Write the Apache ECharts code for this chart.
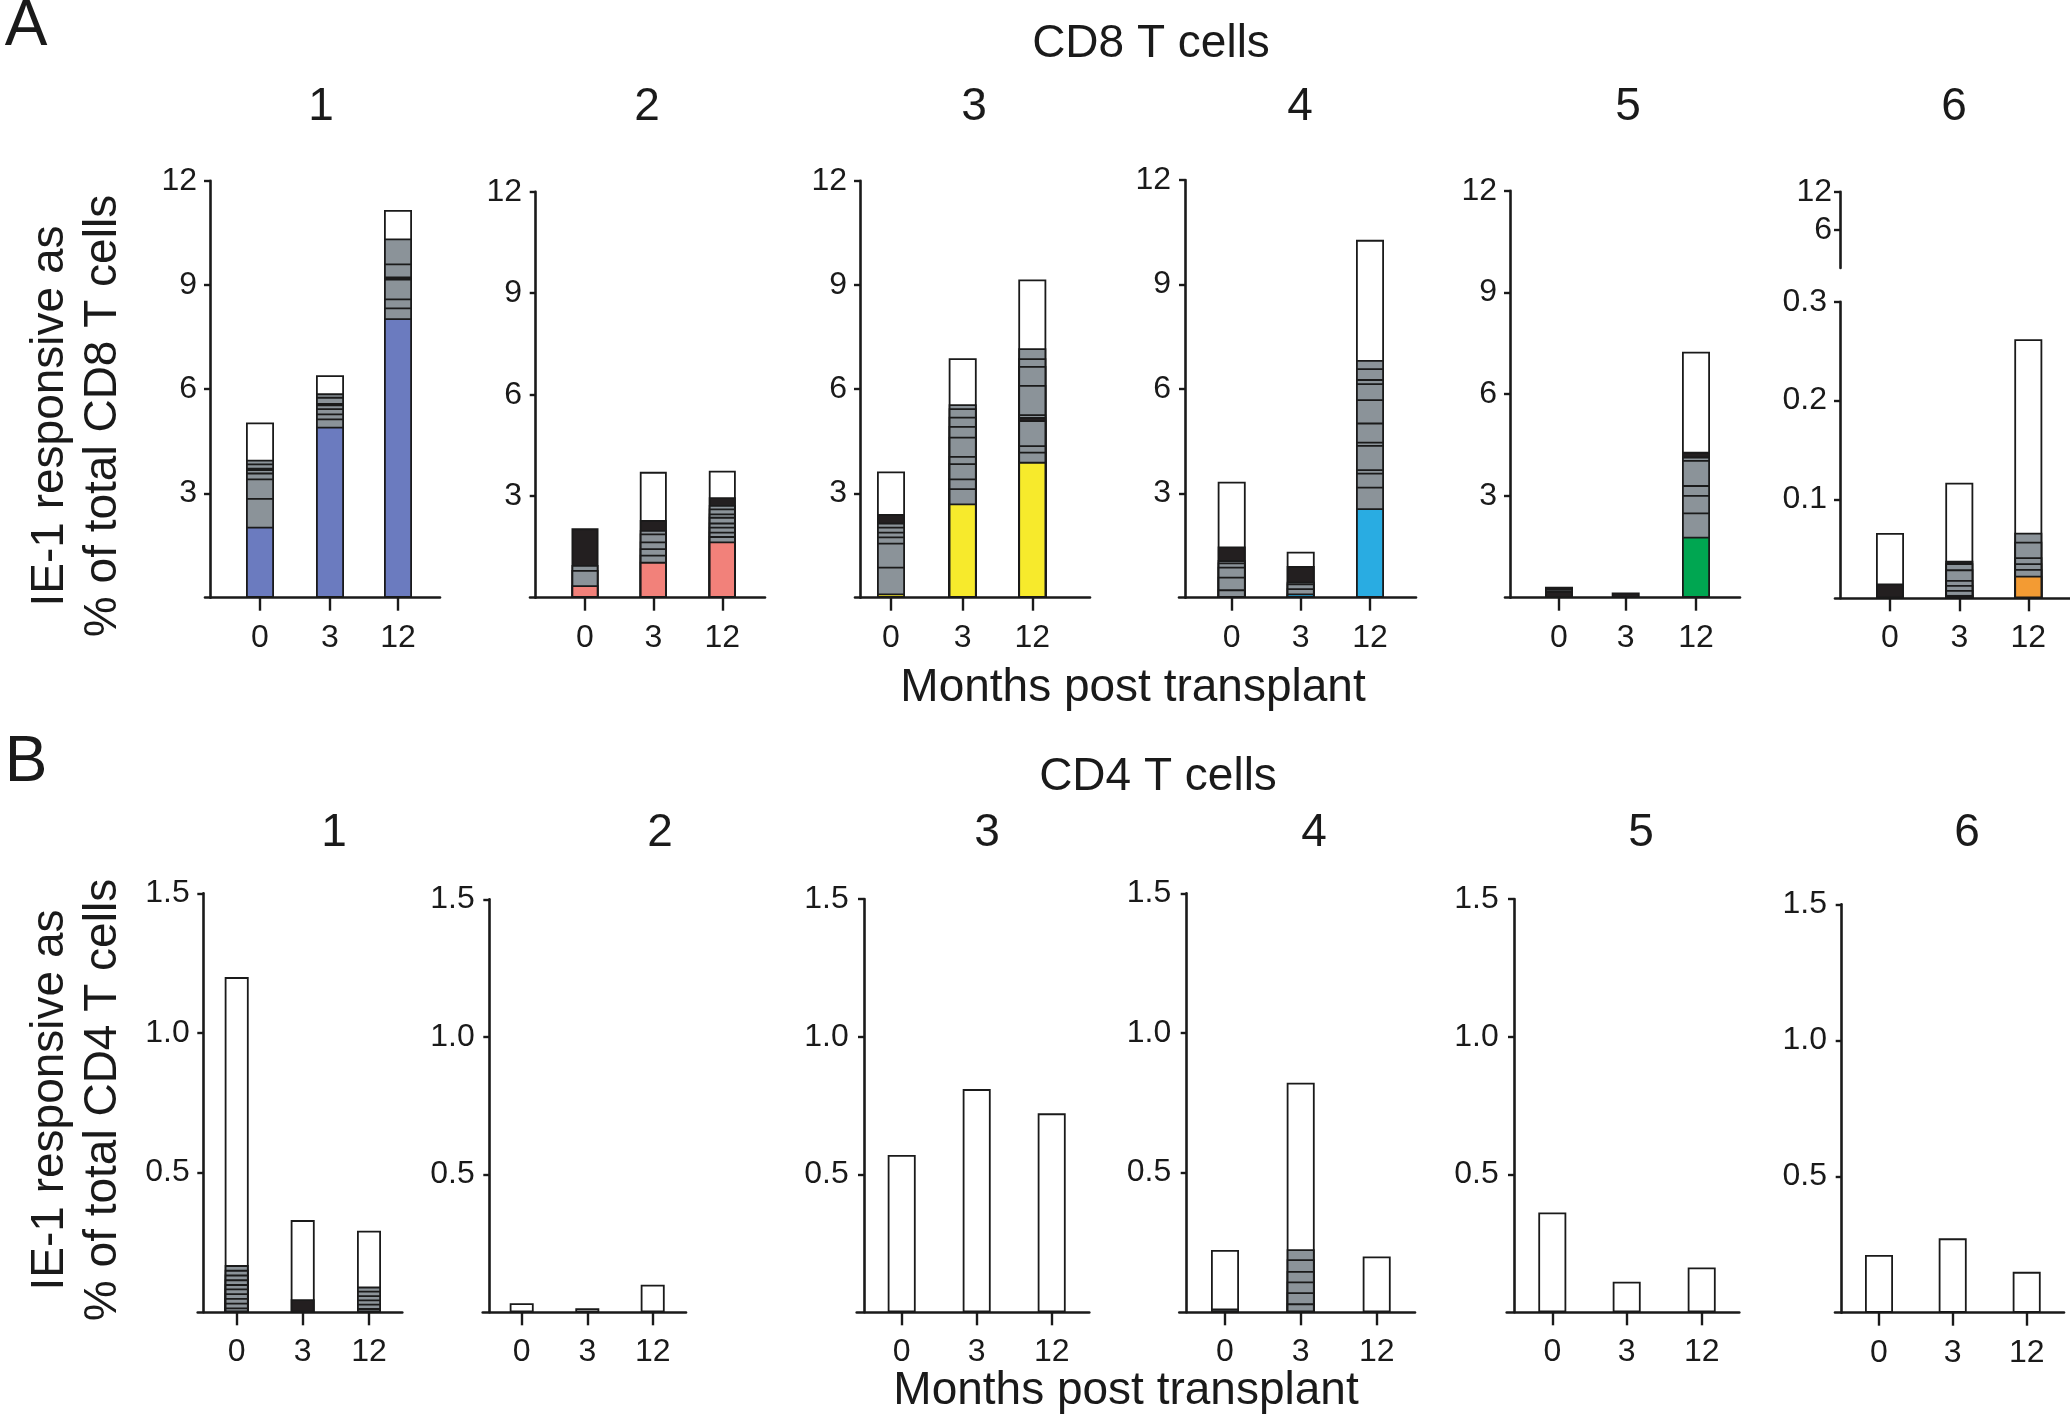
<!DOCTYPE html>
<html><head><meta charset="utf-8">
<script src="https://cdn.jsdelivr.net/npm/echarts@6/dist/echarts.min.js"></script>
<style>html,body{margin:0;padding:0;background:#fff}#c{width:2070px;height:1416px}</style>
</head><body><div id="c"></div>
<script>
// ---------------- DATA ----------------
const months = ['0', '3', '12'];
const patients = ['1', '2', '3', '4', '5', '6'];
// Segment kinds: c = patient-specific clonotype, g = grey clonotype, k = black (many tiny clonotypes), w = white remainder
// tops = cumulative top of each segment (bottom -> top), one entry per bar (month 0, 3, 12)
const cd8_1 = [
  { tops: [2.04, 2.87, 3.43, 3.60, 3.70, 3.74, 3.86, 3.97, 5.04], kinds: 'cggggkggw' },
  { tops: [4.92, 5.16, 5.30, 5.45, 5.56, 5.60, 5.78, 5.88, 6.40], kinds: 'cggggkggw' },
  { tops: [8.04, 8.35, 8.61, 9.18, 9.24, 9.62, 10.34, 11.16], kinds: 'cgggkggw' }
];
const cd8_2 = [
  { tops: [0.37, 0.82, 0.97, 2.05], kinds: 'cggk' },
  { tops: [1.06, 1.27, 1.46, 1.66, 1.90, 2.00, 2.30, 3.72], kinds: 'cgggggkw' },
  { tops: [1.66, 1.82, 1.95, 2.10, 2.22, 2.39, 2.49, 2.64, 2.74, 2.97, 3.75], kinds: 'cggggggggkw' }
];
const cd8_3 = [
  { tops: [0.12, 0.89, 1.58, 1.76, 1.90, 2.04, 2.16, 2.41, 3.63], kinds: 'cggggggkw' },
  { tops: [2.71, 3.15, 3.43, 3.87, 4.08, 4.63, 4.94, 5.21, 5.45, 5.57, 6.89], kinds: 'cgggggggggw' },
  { tops: [3.91, 4.20, 4.39, 5.11, 5.20, 5.28, 6.12, 6.67, 6.89, 7.18, 9.16], kinds: 'cgggkgggggw' }
];
const cd8_4 = [
  { tops: [0.24, 0.60, 0.89, 1.01, 1.08, 1.47, 3.33], kinds: 'gggggkw' },
  { tops: [0.12, 0.27, 0.41, 0.46, 0.91, 1.32], kinds: 'cgggkw' },
  { tops: [2.57, 3.19, 3.59, 3.69, 4.39, 4.48, 5.03, 5.70, 6.16, 6.28, 6.59, 6.83, 10.28], kinds: 'cgggggggggggw' }
];
const cd8_5 = [
  { tops: [0.20, 0.26, 0.32], kinds: 'kgk' },
  { tops: [0.15], kinds: 'k' },
  { tops: [1.80, 2.51, 3.03, 3.32, 4.06, 4.16, 4.30, 7.25], kinds: 'cgggggkw' }
];
const cd8_6 = [
  { tops: [0.015, 0.066], kinds: 'kw' },
  { tops: [0.0034, 0.0084, 0.0135, 0.0185, 0.0293, 0.0354, 0.038, 0.117], kinds: 'ggggggkw' },
  { tops: [0.0229, 0.0297, 0.0354, 0.0415, 0.0573, 0.0664, 0.262], kinds: 'cgggggw' }
];
const cd4_1 = [
  { tops: [0.017, 0.034, 0.051, 0.068, 0.085, 0.101, 0.118, 0.135, 0.152, 0.169, 1.20], kinds: 'ggggggggggw' },
  { tops: [0.047, 0.33], kinds: 'kw' },
  { tops: [0.015, 0.031, 0.046, 0.061, 0.077, 0.092, 0.292], kinds: 'ggggggw' }
];
const cd4_2 = [
  { tops: [0.033], kinds: 'w' },
  { tops: [0.0145], kinds: 'w' },
  { tops: [0.10], kinds: 'w' }
];
const cd4_3 = [
  { tops: [0.571], kinds: 'w' },
  { tops: [0.81], kinds: 'w' },
  { tops: [0.722], kinds: 'w' }
];
const cd4_4 = [
  { tops: [0.014, 0.223], kinds: 'gw' },
  { tops: [0.032, 0.072, 0.11, 0.148, 0.19, 0.2255, 0.822], kinds: 'ggggggw' },
  { tops: [0.20], kinds: 'w' }
];
const cd4_5 = [
  { tops: [0.362], kinds: 'w' },
  { tops: [0.111], kinds: 'w' },
  { tops: [0.163], kinds: 'w' }
];
const cd4_6 = [
  { tops: [0.212], kinds: 'w' },
  { tops: [0.273], kinds: 'w' },
  { tops: [0.15], kinds: 'w' }
];
const cd8Ticks = [0, 3, 6, 9, 12];
const cd8P6Ticks = [0, 0.1, 0.2, 0.3];
const cd8P6BreakTicks = [0, 6, 12];
const cd4Ticks = [0, 0.5, 1.0, 1.5];

// ---------------- STYLE / LAYOUT ----------------
const patientColors = ['#6b7bbf', '#f2817a', '#f7ea2c', '#29ace2', '#00a651', '#f39b33'];
const kindColor = { g: '#8b9399', k: '#231f20', w: '#ffffff' };
const INK = '#1a1a1a';
const FONT = '"Liberation Sans", Arial, Helvetica, sans-serif';

const layoutA = [
  { ax: 210,   top: 180.7, base: 597.7, xl: 205,  xr: 440,  ticks: [260, 330, 398],        bw: 28 },
  { ax: 535.7, top: 191.7, base: 597.7, xl: 530,  xr: 765,  ticks: [585, 653.3, 722.3],    bw: 27 },
  { ax: 860,   top: 180.7, base: 597.7, xl: 855,  xr: 1090, ticks: [891, 962.7, 1032.3],   bw: 28 },
  { ax: 1185,  top: 180,   base: 597.7, xl: 1179, xr: 1416, ticks: [1231.7, 1300.7, 1370], bw: 28 },
  { ax: 1510,  top: 190.7, base: 597.7, xl: 1505, xr: 1740, ticks: [1559, 1625.7, 1696],   bw: 28 },
  { ax: 1840,  top: 301.7, base: 598.3, xl: 1835, xr: 2070, ticks: [1890, 1959.3, 2028.3], bw: 28 }
];
const layoutA6Break = { ax: 1840, top: 191.7, base: 268 };
const layoutB = [
  { ax: 203.3,  top: 893.3, base: 1312.3, xl: 197.7,  xr: 402.3,  ticks: [236.7, 302.7, 369],    bw: 24 },
  { ax: 489.3,  top: 899.3, base: 1312.3, xl: 482.7,  xr: 686,    ticks: [521.7, 587.3, 652.7],  bw: 24 },
  { ax: 864,    top: 899,   base: 1312.3, xl: 856.7,  xr: 1089.3, ticks: [901.7, 976.7, 1051.7], bw: 28 },
  { ax: 1186.7, top: 893.3, base: 1312.3, xl: 1179.3, xr: 1415,   ticks: [1225, 1300.7, 1376.7], bw: 28 },
  { ax: 1514,   top: 899,   base: 1312.3, xl: 1506.7, xr: 1739.3, ticks: [1552.3, 1626.7, 1701.7], bw: 28 },
  { ax: 1841.7, top: 904.3, base: 1312.7, xl: 1835,   xr: 2064,   ticks: [1879, 1952.7, 2026.7], bw: 28 }
];

const grids = [], xAxes = [], yAxes = [], series = [];

function lineStyle(w) { return { color: INK, width: w }; }

function addPanel(bars, lay, yTicks, decimals, color) {
  grids.push({ left: lay.xl, top: lay.top, width: lay.xr - lay.xl, height: lay.base - lay.top });
  const gi = grids.length - 1;
  const pos = lay.ticks.map(t => t - lay.ax);
  xAxes.push({
    gridIndex: gi, type: 'value', min: lay.xl - lay.ax, max: lay.xr - lay.ax,
    axisLine: { show: true, onZero: true, lineStyle: lineStyle(2.6) },
    axisTick: { show: true, customValues: pos, length: 13, lineStyle: lineStyle(2.4) },
    axisLabel: {
      customValues: pos, margin: 24, fontSize: 32, color: INK, fontFamily: FONT,
      formatter: v => {
        let best = 0;
        pos.forEach((p, i) => { if (Math.abs(p - v) < Math.abs(pos[best] - v)) best = i; });
        return months[best];
      }
    },
    splitLine: { show: false }
  });
  const step = yTicks[1] - yTicks[0];
  yAxes.push({
    gridIndex: gi, type: 'value', min: yTicks[0], max: yTicks[yTicks.length - 1], interval: step,
    axisLine: { show: true, onZero: true, lineStyle: lineStyle(2.6) },
    axisTick: { show: true, length: 6, lineStyle: lineStyle(2.4) },
    axisLabel: { showMinLabel: false, margin: 8, fontSize: 32, color: INK, fontFamily: FONT,
      formatter: v => decimals ? v.toFixed(decimals) : String(Math.round(v)) },
    splitLine: { show: false }
  });
  // Each segment is drawn as a bar from 0 up to its cumulative top; the top segment
  // is drawn first and lower segments are painted over it, so each visible band
  // spans exactly [previous top, top] with a border line at every boundary.
  const n = Math.max(...bars.map(b => b.kinds.length));
  for (let k = n - 1; k >= 0; k--) {
    series.push({
      type: 'bar', xAxisIndex: gi, yAxisIndex: gi, barWidth: lay.bw, barGap: '-100%',
      animation: false, silent: true,
      data: bars.map((b, j) => {
        if (k >= b.kinds.length) return { value: [pos[j], '-'] };
        const kind = b.kinds[k];
        return {
          value: [pos[j], b.tops[k]],
          itemStyle: { color: kind === 'c' ? color : kindColor[kind], borderColor: INK, borderWidth: 1.8 }
        };
      })
    });
  }
}

const cd8Data = [cd8_1, cd8_2, cd8_3, cd8_4, cd8_5, cd8_6];
const cd4Data = [cd4_1, cd4_2, cd4_3, cd4_4, cd4_5, cd4_6];
cd8Data.forEach((bars, i) => {
  if (i < 5) addPanel(bars, layoutA[i], cd8Ticks, 0, patientColors[i]);
  else addPanel(bars, layoutA[i], cd8P6Ticks, 1, patientColors[i]);
});
cd4Data.forEach((bars, i) => addPanel(bars, layoutB[i], cd4Ticks, 1, patientColors[i]));

// broken-axis upper segment for CD8 patient 6
(function () {
  const L = layoutA6Break;
  grids.push({ left: L.ax, top: L.top, width: 100, height: L.base - L.top });
  const gi = grids.length - 1;
  xAxes.push({ gridIndex: gi, type: 'value', min: 0, max: 1, show: false });
  yAxes.push({
    gridIndex: gi, type: 'value', min: 0, max: cd8P6BreakTicks[2], interval: cd8P6BreakTicks[1],
    axisLine: { show: true, onZero: false, lineStyle: lineStyle(2.6) },
    axisTick: { show: true, length: 6, lineStyle: lineStyle(2.4) },
    axisLabel: { showMinLabel: false, margin: 8, fontSize: 32, color: INK, fontFamily: FONT },
    splitLine: { show: false }
  });
})();

// ---------------- TEXT ----------------
const texts = [
  { t: 'A', x: 26, y: 27, s: 64 },
  { t: 'B', x: 26, y: 763, s: 64 },
  { t: 'CD8 T cells', x: 1151, y: 44, s: 46 },
  { t: 'CD4 T cells', x: 1158, y: 777, s: 46 },
  { t: 'Months post transplant', x: 1133, y: 688, s: 46 },
  { t: 'Months post transplant', x: 1126, y: 1391, s: 46 }
];
const numXA = [321, 647, 974, 1300, 1628, 1954];
const numXB = [334, 660, 987, 1314, 1641, 1967];
patients.forEach((p, i) => {
  texts.push({ t: p, x: numXA[i], y: 107, s: 46 });
  texts.push({ t: p, x: numXB[i], y: 833, s: 46 });
});
const graphics = texts.map(o => ({
  type: 'text', x: o.x, y: o.y, silent: true,
  style: { text: o.t, fill: INK, font: o.s + 'px ' + FONT, textAlign: 'center', textVerticalAlign: 'middle' }
}));
const yTitles = [
  { t: 'IE-1 responsive as', x: 50, y: 416 },
  { t: '% of total CD8 T cells', x: 103, y: 416 },
  { t: 'IE-1 responsive as', x: 50, y: 1100 },
  { t: '% of total CD4 T cells', x: 103, y: 1100 }
];
yTitles.forEach(o => graphics.push({
  type: 'text', x: o.x, y: o.y, rotation: Math.PI / 2, silent: true,
  style: { text: o.t, fill: INK, font: '46px ' + FONT, textAlign: 'center', textVerticalAlign: 'middle' }
}));

const chart = echarts.init(document.getElementById('c'), null, { renderer: 'canvas' });
chart.setOption({
  animation: false,
  backgroundColor: '#ffffff',
  grid: grids, xAxis: xAxes, yAxis: yAxes, series: series,
  graphic: graphics
});
</script></body></html>
